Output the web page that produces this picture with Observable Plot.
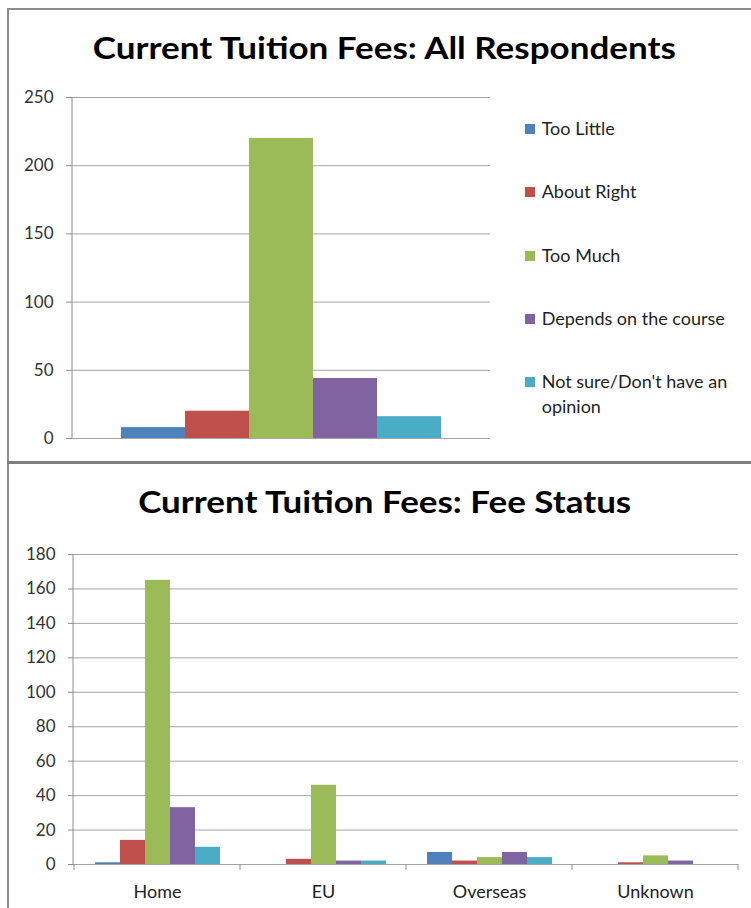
<!DOCTYPE html>
<html>
<head>
<meta charset="utf-8">
<script src="https://cdn.jsdelivr.net/npm/d3@7"></script>
<script src="https://cdn.jsdelivr.net/npm/@observablehq/plot@0.6"></script>
<style>
html, body { margin:0; padding:0; background:#fff; }
#page { position:relative; width:751px; height:908px; overflow:hidden; background:#fff; font-family:Lato, "Liberation Sans", Arial, sans-serif; }
.rule { position:absolute; background:#8c8c8c; }
.title { position:absolute; left:9px; width:751px; text-align:center; white-space:nowrap;
  font-family:Lato, "Liberation Sans", sans-serif;
  font-weight:bold; font-size:31px; line-height:31px; color:#000; }
.title span { display:inline-block; transform-origin:50% 50%; }
.chart { position:absolute; left:0; }
.legend { position:absolute; left:524px; top:116.3px; display:flex; flex-direction:column; row-gap:38.2px;
  font-size:18px; line-height:25px; color:#1f1f1f; }
.legend .item { position:relative; padding-left:17.7px; white-space:nowrap; }
.legend .sw { position:absolute; left:1px; top:8px; width:10px; height:10px; }
</style>
</head>
<body>
<div id="page">
  <div class="rule" style="left:7px;top:8px;width:744px;height:2px;"></div>
  <div class="rule" style="left:7px;top:8px;width:2px;height:900px;"></div>
  <div class="title" style="top:32px;"><span id="title1" data-w="583"></span></div>
  <div id="chart1" class="chart" style="top:80px;"></div>
  <div id="legend" class="legend"></div>
  <div class="rule" style="left:7px;top:461px;width:744px;height:3px;background:#7f7f7f;"></div>
  <div class="title" style="top:486px;"><span id="title2" data-w="493"></span></div>
  <div id="chart2" class="chart" style="top:540px;"></div>
</div>
<script>
// ---- Data ----
const titleAll = "Current Tuition Fees: All Respondents";
const titleFee = "Current Tuition Fees: Fee Status";
const responses = ["Too Little", "About Right", "Too Much", "Depends on the course", "Not sure/Don't have an opinion"];
const legendLines = [["Too Little"], ["About Right"], ["Too Much"], ["Depends on the course"], ["Not sure/Don't have an", "opinion"]];
const responseColors = ["#4F81BD", "#C0504D", "#9BBB59", "#8064A2", "#4BACC6"];
const allRespondents = [8, 20, 220, 44, 16];
const feeStatus = ["Home", "EU", "Overseas", "Unknown"];
const tooLittle = [1, 0, 7, 0];
const aboutRight = [14, 3, 2, 1];
const tooMuch = [165, 46, 4, 5];
const dependsOnCourse = [33, 2, 7, 2];
const notSure = [10, 2, 4, 0];
const topTicks = [0, 50, 100, 150, 200, 250];
const bottomTicks = [0, 20, 40, 60, 80, 100, 120, 140, 160, 180];

// ---- Styles ----
const gridColor = "#a6a6a6";
const axisColor = "#8c8c8c";
const tickText = "#333";
const plotStyle = {fontFamily: 'Lato, "Liberation Sans", Arial, sans-serif', fontSize: "17px", color: "#333", background: "transparent", overflow: "visible"};

document.getElementById("title1").textContent = titleAll;
document.getElementById("title2").textContent = titleFee;

// ---- Legend ----
const legend = d3.select("#legend");
legendLines.forEach((lines, i) => {
  const item = legend.append("div").attr("class", "item");
  item.append("span").attr("class", "sw").style("background", responseColors[i]);
  item.append("span").html(lines.map(s => s.replace(/&/g, "&amp;").replace(/</g, "&lt;")).join("<br>"));
});

// ---- Chart 1 ----
const topData = responses.map((r, i) => ({response: r, value: allRespondents[i]}));
const chart1 = Plot.plot({
  width: 751, height: 380,
  marginTop: 17, marginBottom: 22, marginLeft: 72, marginRight: 261,
  style: plotStyle,
  x: {domain: responses, paddingInner: 0, paddingOuter: 0.755, axis: null},
  y: {domain: [0, 250]},
  color: {domain: responses, range: responseColors},
  marks: [
    Plot.gridY(topTicks, {stroke: gridColor, strokeOpacity: 1}),
    Plot.axisY(topTicks, {tickSize: 6, tickPadding: 13, fontSize: 17, stroke: axisColor, fill: tickText, label: null}),
    Plot.barY(topData, {x: "response", y: "value", fill: "response", inset: 0})
  ]
});
document.getElementById("chart1").appendChild(chart1);
{
  const x = chart1.scale("x"), y = chart1.scale("y");
  d3.select(chart1).append("line")
    .attr("x1", x.range[0]).attr("x2", x.range[0])
    .attr("y1", y.apply(topTicks[topTicks.length - 1])).attr("y2", y.apply(0))
    .attr("stroke", axisColor);
}

// ---- Chart 2 ----
const series = [tooLittle, aboutRight, tooMuch, dependsOnCourse, notSure];
const feeData = feeStatus.flatMap((s, i) => responses.map((r, j) => ({status: s, response: r, value: series[j][i]})));
const chart2 = Plot.plot({
  width: 751, height: 368,
  marginTop: 14, marginBottom: 44, marginLeft: 73, marginRight: 13,
  style: plotStyle,
  fx: {domain: feeStatus, padding: 0},
  x: {domain: responses, paddingInner: 0, paddingOuter: 0.776, axis: null},
  y: {domain: [0, 180]},
  color: {domain: responses, range: responseColors},
  marks: [
    Plot.gridY(bottomTicks, {stroke: gridColor, strokeOpacity: 1}),
    Plot.axisY(bottomTicks, {tickSize: 6, tickPadding: 13, fontSize: 17, stroke: axisColor, fill: tickText, label: null}),
    Plot.axisFx({anchor: "bottom", tickSize: 0, tickPadding: 21, fontSize: 18, fill: "#222", label: null}),
    Plot.barY(feeData, {fx: "status", x: "response", y: "value", fill: "response", inset: 0})
  ]
});
document.getElementById("chart2").appendChild(chart2);
{
  const fx = chart2.scale("fx"), y = chart2.scale("y");
  const svg = d3.select(chart2);
  const y0 = y.apply(0);
  svg.append("line")
    .attr("x1", fx.range[0]).attr("x2", fx.range[0])
    .attr("y1", y.apply(bottomTicks[bottomTicks.length - 1])).attr("y2", y0)
    .attr("stroke", axisColor);
  const bounds = feeStatus.map(d => fx.apply(d)).concat([fx.apply(feeStatus[feeStatus.length - 1]) + fx.bandwidth]);
  svg.append("g").selectAll("line").data(bounds).join("line")
    .attr("x1", d => d).attr("x2", d => d)
    .attr("y1", y0).attr("y2", y0 + 6)
    .attr("stroke", axisColor);
}

// ---- Fit titles to the reference widths ----
document.querySelectorAll(".title span").forEach(span => {
  const target = +span.dataset.w;
  const w = span.getBoundingClientRect().width;
  if (w > 0) span.style.transform = `scaleX(${target / w})`;
});
</script>
</body>
</html>
